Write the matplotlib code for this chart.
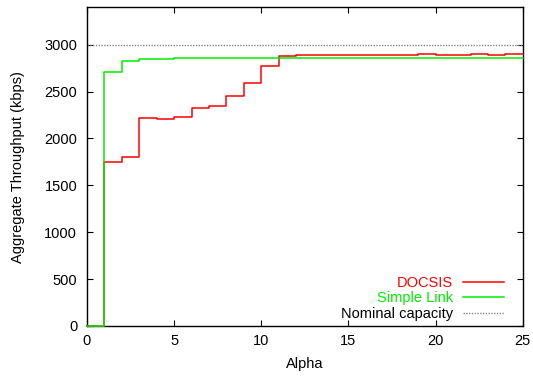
import matplotlib
matplotlib.use("Agg")
import matplotlib.pyplot as plt

alpha = list(range(0, 26))
docsis = [0, 1745, 1805, 2223, 2209, 2230, 2322, 2344, 2454, 2592, 2773, 2880,
          2887, 2890, 2887, 2890, 2887, 2887, 2887, 2897, 2890, 2890, 2897, 2890,
          2897, 2897]
simple = [0, 2705, 2830, 2848, 2852, 2855, 2857, 2858, 2858, 2860, 2860, 2860,
          2860, 2860, 2860, 2860, 2860, 2860, 2860, 2860, 2860, 2860, 2860, 2860,
          2860, 2860]
nominal = 3000

plt.rcParams['font.family'] = ['Liberation Sans', 'DejaVu Sans']
plt.rcParams['font.size'] = 10.5

fig = plt.figure(figsize=(5.33, 3.76), dpi=100)
ax = fig.add_axes([0.163, 0.133, 0.818, 0.848])

red = '#ff0000'
green = '#00ee00'
ax.step(alpha, docsis, where='post', color=red, lw=1.1, label='DOCSIS',
        clip_on=False, zorder=3)
ax.step(alpha, simple, where='post', color=green, lw=1.1, label='Simple Link',
        clip_on=False, zorder=3.1)
ax.axhline(nominal, color='#888888', lw=1.0, ls=(0, (1, 1)), label='Nominal capacity')

ax.set_xlim(0, 25)
ax.set_ylim(0, 3400)
ax.set_xticks(range(0, 26, 5))
ax.set_yticks(range(0, 3001, 500))
ax.tick_params(direction='in', top=True, right=True, length=4, width=0.8,
               labelsize=10.5)
ax.tick_params(axis='y', pad=7)
ax.tick_params(axis='x', pad=6)
for s in ax.spines.values():
    s.set_linewidth(1.0)
ax.set_xlabel('Alpha', fontsize=10.5, labelpad=6)
ax.set_ylabel('Aggregate Throughput (kbps)', fontsize=10.5, labelpad=14)

leg = ax.legend(loc='lower right', bbox_to_anchor=(0.956, 0.016),
                markerfirst=False, frameon=False, fontsize=10.5,
                handlelength=2.8, handletextpad=0.7, labelspacing=0.1,
                borderaxespad=0.0, borderpad=0.0)
for txt, c in zip(leg.get_texts(), [red, green, 'black']):
    txt.set_color(c)

fig.savefig('out.png', dpi=100)
